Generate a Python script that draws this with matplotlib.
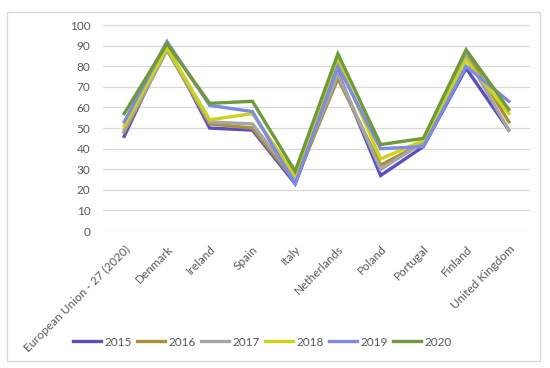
import matplotlib.pyplot as plt
from matplotlib.patches import Rectangle

# categories and yearly values (%)
countries = ["European Union - 27 (2020)", "Denmark", "Ireland", "Spain", "Italy",
             "Netherlands", "Poland", "Portugal", "Finland", "United Kingdom"]
years = ["2015", "2016", "2017", "2018", "2019", "2020"]
v2015 = [46, 90, 50, 49, 23, 77, 27, 41, 79, 49]
v2016 = [48, 88, 52, 50, 24, 74, 32, 43, 87, 53]
v2017 = [49, 88, 53, 52, 25, 76, 30, 43, 85, 49]
v2018 = [51, 89, 54, 57, 27, 83, 35, 44, 83, 57]
v2019 = [53, 92, 61, 58, 23, 80, 40, 41, 80, 63]
v2020 = [57, 91, 62, 63, 29, 86, 42, 45, 88, 59]
series = [v2015, v2016, v2017, v2018, v2019, v2020]
colors = ["#5a4fc0", "#a8913a", "#a5a5a5", "#ccd31a", "#7d8be0", "#6f9a3c"]

plt.rcParams["font.family"] = ["Lato", "DejaVu Sans"]
fig = plt.figure(figsize=(5.5, 3.68), dpi=100)
ax = fig.add_axes([0.187, 0.372, 0.777, 0.560])

x = range(len(countries))
for vals, yr, c in zip(series, years, colors):
    ax.plot(x, vals, color=c, lw=2.4, label=yr, solid_joinstyle="miter")

ax.set_ylim(0, 100)
ax.set_xlim(-0.5, len(countries) - 0.5)
ax.set_yticks(range(0, 101, 10))
ax.grid(axis="y", color="#d9d9d9", lw=0.9)
ax.set_axisbelow(True)
for s in ax.spines.values():
    s.set_visible(False)
ax.tick_params(length=0, labelsize=8.5, colors="#595959")
ax.tick_params(axis="y", pad=9)
ax.tick_params(axis="x", pad=9)
ax.set_xticks(list(x))
ax.set_xticklabels(countries, rotation=45, ha="right", rotation_mode="anchor")

fig.legend(loc="center", bbox_to_anchor=(0.477, 1 - 342 / 368), ncol=6, frameon=False,
           fontsize=8.5, handlelength=2.4, handletextpad=0.25, columnspacing=0.45,
           labelcolor="#595959")

fig.patches.append(Rectangle((7 / 550, 1 - 361 / 368), 533 / 550, 349 / 368,
                             transform=fig.transFigure, fill=False,
                             edgecolor="#d9d9d9", lw=1))

fig.savefig("out.png", dpi=100)
